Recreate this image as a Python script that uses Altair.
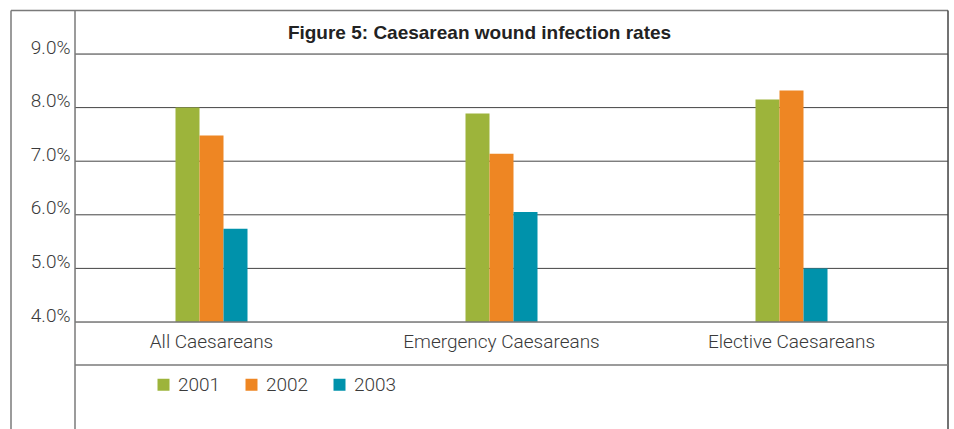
import altair as alt
import pandas as pd

# Caesarean wound infection rates by procedure type and year
categories = ["All Caesareans", "Emergency Caesareans", "Elective Caesareans"]
years = ["2001", "2002", "2003"]
rates_2001 = [0.080, 0.0789, 0.0815]
rates_2002 = [0.0748, 0.0714, 0.0832]
rates_2003 = [0.0574, 0.0605, 0.0500]
year_colors = ["#9DB43B", "#EE8623", "#0092AB"]
tick_values = [0.04, 0.05, 0.06, 0.07, 0.08, 0.09]
title_text = "Figure 5: Caesarean wound infection rates"

rows = []
for yr, vals in zip(years, [rates_2001, rates_2002, rates_2003]):
    for cat, v in zip(categories, vals):
        rows.append({"category": cat, "year": yr, "rate": v})
df = pd.DataFrame(rows)

W, H = 873, 268
FONT = "Roboto"
TEXT = "#3a3a3a"
FRAME = "#7a7a7a"

y_scale = alt.Scale(domain=[0.04, 0.09], nice=False, zero=False, clamp=True)
y_axis = alt.Axis(title=None, format=".1%", values=tick_values,
                  ticks=False, domain=False, grid=False,
                  labelFontSize=19, labelFont=FONT, labelFontWeight=300,
                  labelColor=TEXT, labelPadding=5, labelBaseline="alphabetic",
                  labelOffset=-1)

# horizontal gridlines, drawn below the bars
grid = alt.Chart(pd.DataFrame({"v": tick_values[1:]})).mark_rule(
    color="#444444", strokeWidth=1
).encode(x=alt.value(0), x2=alt.value(W), y=alt.Y("v:Q", scale=y_scale, axis=y_axis))

bars = alt.Chart(df).mark_bar(clip=False).encode(
    x=alt.X("category:N", sort=categories,
            scale=alt.Scale(range=[-8.5, 861.5], paddingInner=0, paddingOuter=0),
            axis=alt.Axis(title=None, labelAngle=0, ticks=False, domain=False,
                          labelFontSize=19, labelFont=FONT, labelFontWeight=300,
                          labelColor=TEXT, labelPadding=10, labelLimit=0)),
    xOffset=alt.XOffset("year:N", sort=years,
                        scale=alt.Scale(range=[109, 181], paddingInner=0, paddingOuter=0)),
    y=alt.Y("rate:Q", scale=y_scale, axis=y_axis),
    color=alt.Color("year:N", sort=years,
                    scale=alt.Scale(domain=years, range=year_colors),
                    legend=alt.Legend(title=None, orient="none", direction="horizontal",
                                      legendX=79, legendY=321, symbolType="square",
                                      symbolSize=144, symbolStrokeWidth=0,
                                      labelFontSize=19, labelFont=FONT, labelFontWeight=300,
                                      labelColor=TEXT, labelOffset=5, columnPadding=21)),
)

# frame lines around and inside the figure
frame_df = pd.DataFrame({"k": [0]})
base = alt.Chart(frame_df)
top_line = base.mark_rule(color=FRAME, strokeWidth=1.5).encode(
    x=alt.value(-64), x2=alt.value(W), y=alt.value(-43.5))
left_outer = base.mark_rule(color=FRAME, strokeWidth=1.5).encode(
    x=alt.value(-64), y=alt.value(-43.5), y2=alt.value(380))
left_inner = base.mark_rule(color=FRAME, strokeWidth=1.5).encode(
    x=alt.value(0), y=alt.value(-43.5), y2=alt.value(380))
right_line = base.mark_rule(color="#444444", strokeWidth=1.5).encode(
    x=alt.value(W), y=alt.value(-43.5), y2=alt.value(380))
base_line = base.mark_rule(color=FRAME, strokeWidth=1.5).encode(
    x=alt.value(0), x2=alt.value(W), y=alt.value(H))
label_line = base.mark_rule(color=FRAME, strokeWidth=1.5).encode(
    x=alt.value(0), x2=alt.value(W), y=alt.value(311))

title = alt.Chart(pd.DataFrame({"t": [title_text]})).mark_text(
    font="Liberation Sans", fontSize=19, fontWeight="bold", color="#222222",
    baseline="alphabetic"
).encode(x=alt.value(404.5), y=alt.value(-15), text="t:N")

chart = alt.layer(
    grid, bars, top_line, left_outer, left_inner, right_line, base_line, label_line, title
).properties(
    width=W, height=H,
    autosize=alt.AutoSizeParams(type="none"),
    padding={"left": 75, "top": 54, "right": 6, "bottom": 107},
).configure_view(stroke=None).configure(background="white")

chart.save("out.html", embed_options={"renderer": "svg", "actions": False})
